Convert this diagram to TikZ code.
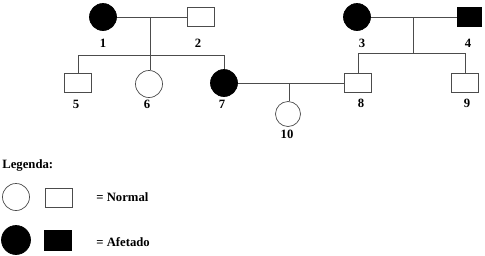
\documentclass[tikz,border=0pt]{standalone}
\usepackage{fontspec}
\setmainfont{Liberation Serif}
\tikzset{
    fem/.style={draw=black!70,circle,minimum size=27pt,inner sep=0pt},
    masc/.style={draw=black!70,rectangle,minimum width=27pt,minimum height=19pt,inner sep=0pt},
    afet/.style={fill=black,draw=black},
    lab/.style={font=\bfseries\fontsize{12.7}{14}\selectfont,inner sep=0pt}
}
\begin{document}
\begin{tikzpicture}[x=1pt,y=-1pt,line width=0.7pt,draw=black!70]
    \useasboundingbox (0,0) rectangle (485,255);
    % first generation
    \node[fem,afet] (p1) at (103,17) {};
    \node[masc] (p2) at (201,17) {};
    \node[fem,afet] (p3) at (357,17) {};
    \node[masc,afet,minimum width=24pt] (p4) at (469,17) {};
    \node[lab] (l1) at (103,43) {1};
    \node[lab] (l2) at (198,43) {2};
    \node[lab] (l3) at (362,43) {3};
    \node[lab] (l4) at (468,43) {4};

    % second generation
    \node[masc] (p5) at (78,83) {};
    \node[fem] (p6) at (149,84) {};
    \node[fem,afet] (p7) at (224,83) {};
    \node[masc] (p8) at (358,83) {};
    \node[masc] (p9) at (465,83) {};
    \node[lab] (l5) at (76,104) {5};
    \node[lab] (l6) at (147,104) {6};
    \node[lab] (l7) at (222,104) {7};
    \node[lab] (l8) at (361,103) {8};
    \node[lab] (l9) at (467,103) {9};

    % third generation
    \node[fem,minimum size=25pt] (p10) at (288,114) {};
    \node[lab] (l10) at (287,134) {10};

    \coordinate (m12) at (150,17);
    \coordinate (s12) at (150,55);
    \coordinate (m34) at (413,17);
    \coordinate (s34) at (413,53);
    \coordinate (m78) at (289,83);

    \draw (p1) -- (p2);
    \draw (m12) -- (m12 |- p6.north);
    \draw (p5.north) -- (p5.north |- s12) -- (p7.north |- s12) -- (p7.north);
    \draw (p3) -- (p4);
    \draw (m34) -- (s34);
    \draw (p8.north) -- (p8.north |- s34) -- (p9.north |- s34) -- (p9.north);
    \draw (p7) -- (p8);
    \draw (m78) -- (m78 |- p10.north);

    % legenda
    \node[lab,anchor=west] (leg) at (2,165) {Legenda:};
    \node[fem] (lf) at (16,197) {};
    \node[masc] (lm) at (59,198) {};
    \node[lab,anchor=west] (lnorm) at (96,197) {= Normal};
    \node[fem,afet,minimum size=29pt] (lfa) at (16,240) {};
    \node[masc,afet,minimum height=20pt] (lma) at (58,240) {};
    \node[lab,anchor=west] (lafet) at (96,242) {= Afetado};
\end{tikzpicture}
\end{document}
